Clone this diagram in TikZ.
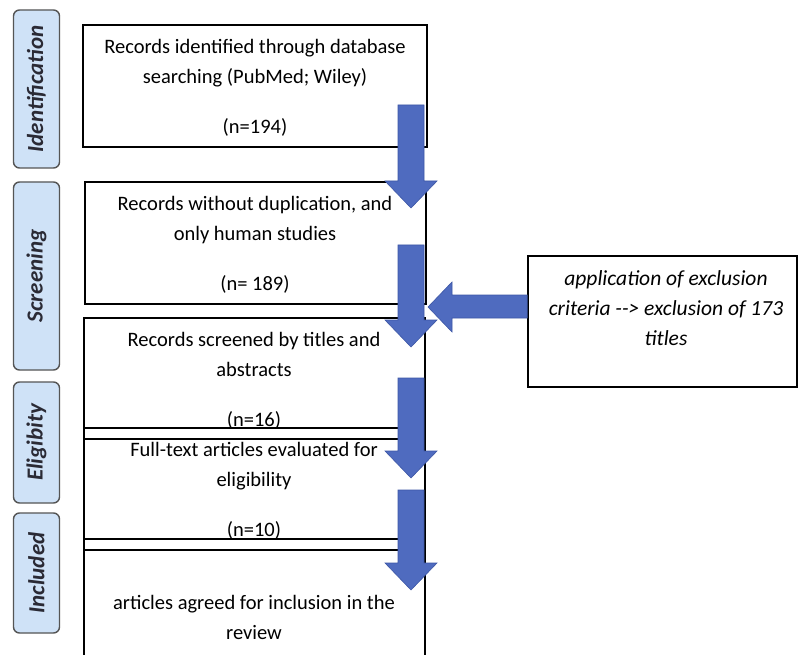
\documentclass[tikz,border=0pt]{standalone}
\usepackage{fontspec}
\setmainfont{Carlito}
\definecolor{arrowblue}{HTML}{4F6BBF}
\definecolor{arrowedge}{HTML}{3D57A6}
\definecolor{labblue}{HTML}{CFE2F7}
\definecolor{labgray}{HTML}{555555}
\definecolor{labtext}{HTML}{2A2A35}
\newcommand\dnarrow[3]{%
  \filldraw[barrow] (#1-13,#2) -- (#1+13,#2) -- (#1+13,#3-27) -- (#1+26,#3-27)
    -- (#1,#3) -- (#1-26,#3-27) -- (#1-13,#3-27) -- cycle;}
\begin{document}
\begin{tikzpicture}[x=1pt,y=-1pt,
  box/.style={draw=black, line width=1.6pt, inner sep=0pt},
  lab/.style={draw=labgray, fill=labblue, rounded corners=6pt, line width=1.4pt, minimum width=46pt, inner sep=0pt},
  labtxt/.style={rotate=90, font=\fontsize{23}{26}\selectfont\bfseries\itshape, text=labtext},
  body/.style={align=center, inner sep=0pt, font=\fontsize{20.5}{30}\selectfont},
  barrow/.style={fill=arrowblue, draw=arrowedge, line width=0.6pt}]
\useasboundingbox (0,0) rectangle (798,655);
\fill[white] (0,0) rectangle (798,655);
\clip (0,0) rectangle (798,655);

% stage labels
\node[lab, minimum height=158pt] (lid) at (36.5,89) {};
\node[labtxt] at (lid) {Identification};
\node[lab, minimum height=188pt] (lsc) at (36.5,276) {};
\node[labtxt] at (lsc) {Screening};
\node[lab, minimum height=121pt] (lel) at (36.5,442.5) {};
\node[labtxt] at (lel) {Eligibity};
\node[lab, minimum height=120pt] (lin) at (36.5,573) {};
\node[labtxt] at (lin) {Included};

% boxes
\node[box, minimum width=344pt, minimum height=122pt] (b1) at (255,86) {};
\node[box, minimum width=341pt, minimum height=122pt] (b2) at (255.5,243) {};
\node[box, minimum width=341pt, minimum height=121pt] (b3) at (254.5,378.5) {};
\node[box, minimum width=341pt, minimum height=122pt] (b4) at (254.5,489) {};
\node[box, minimum width=341pt, minimum height=161pt] (b5) at (254.5,619.5) {};
\node[box, minimum width=269pt, minimum height=131pt] (rb) at (662.5,321.5) {};

% texts
\node[body] (t1) at (255,88) {Records identified through database\\searching (PubMed; Wiley)\\[20pt](n=194)};
\node[body] (t2) at (255,245) {Records without duplication, and\\only human studies\\[20pt](n= 189)};
\node[body] (t3) at (254,381) {Records screened by titles and\\abstracts\\[20pt](n=16)};
\node[body] (t4) at (254,491) {Full-text articles evaluated for\\eligibility\\[20pt](n=10)};
\node[body] (t5) at (254,617) {articles agreed for inclusion in the\\review};
\node[body, font=\fontsize{21.5}{30}\selectfont\itshape] (rt) at (666,308) {application of exclusion\\criteria -{}-> exclusion of 173\\titles};

% block arrows
\dnarrow{411}{105}{208}
\dnarrow{411}{245}{347}
\dnarrow{411}{378}{478}
\dnarrow{411}{490}{590}
\filldraw[barrow] (rb.west |- 0,295) -- (452,295) -- (452,282) -- (428,307)
  -- (452,332) -- (452,318) -- (rb.west |- 0,318) -- cycle;
\end{tikzpicture}
\end{document}
